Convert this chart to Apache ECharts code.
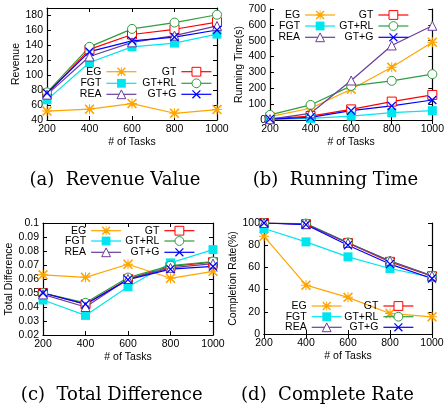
<!DOCTYPE html>
<html>
<head>
<meta charset="utf-8">
<script src="https://cdn.jsdelivr.net/npm/echarts@6/dist/echarts.min.js"></script>
<style>
html,body{margin:0;padding:0;background:#fff;}
#c{width:447px;height:410px;}
</style>
</head>
<body>
<div id="c"></div>
<script>
// ---------- data ----------
const tasks = [200, 400, 600, 800, 1000];
const seriesNames = ['EG', 'GT', 'FGT', 'GT+RL', 'REA', 'GT+G'];

const revEG   = [52, 54.5, 62, 49, 54];
const revGT   = [75, 134.5, 154.5, 161.5, 171];
const revFGT  = [67, 117, 138, 143, 155];
const revGTRL = [77, 138, 162, 170.5, 181];
const revREA  = [74, 125, 144, 153, 166];
const revGTG  = [76, 131.5, 146, 151, 160.5];

const timeEG   = [21, 74, 194, 333, 491];
const timeGT   = [8, 25, 67, 116, 158];
const timeFGT  = [3, 10, 25, 46, 59];
const timeGTRL = [32, 95, 215, 247, 289];
const timeREA  = [5, 42, 249, 470, 594];
const timeGTG  = [6, 17, 59, 89, 126];

const diffEG   = [0.063, 0.0612, 0.0705, 0.0605, 0.0655];
const diffGT   = [0.050, 0.042, 0.060, 0.069, 0.072];
const diffFGT  = [0.045, 0.034, 0.0545, 0.0715, 0.081];
const diffGTRL = [0.050, 0.043, 0.061, 0.0695, 0.0725];
const diffREA  = [0.049, 0.040, 0.060, 0.068, 0.071];
const diffGTG  = [0.050, 0.042, 0.0595, 0.067, 0.069];

const rateEG   = [88, 44, 33, 18.5, 15.5];
const rateGT   = [100, 99, 82, 65, 52];
const rateFGT  = [95, 83, 69.5, 59, 51];
const rateGTRL = [100, 99.5, 82.5, 65.5, 52.5];
const rateREA  = [100, 99, 82, 66, 52.5];
const rateGTG  = [100, 98.5, 80, 63, 50];

const yTitles = ['Revenue', 'Running Time(s)', 'Total Difference', 'Completion Rate(%)'];
const xTitle = '# of Tasks';
const captions = ['(a)  Revenue Value', '(b)  Running Time', '(c)  Total Difference', '(d)  Complete Rate'];

// ---------- styles ----------
const SANS = 'Liberation Sans, Arial, sans-serif';
const crossPath = 'path://M2,0L10,8L18,0L20,2L12,10L20,18L18,20L10,12L2,20L0,18L8,10L0,2Z';
const starPath = 'path://M2.3,0L10,7.7L17.7,0L20,2.3L12.3,10L20,17.7L17.7,20L10,12.3L2.3,20L0,17.7L7.7,10L0,2.3Z M9,0L11,0L11,9L20,9L20,11L11,11L11,20L9,20L9,11L0,11L0,9L9,9Z';
const style = {
  'EG':    {color: '#FFA500', symbol: starPath, size: 10, hollow: false},
  'GT':    {color: '#FF0000', symbol: 'rect', size: 9, hollow: true},
  'FGT':   {color: '#00E5EE', symbol: 'rect', size: 9, hollow: false},
  'GT+RL': {color: '#2E9E3E', symbol: 'circle', size: 9, hollow: true},
  'REA':   {color: '#6A3D9A', symbol: 'triangle', size: 9, hollow: true},
  'GT+G':  {color: '#0000FF', symbol: crossPath, size: 9, hollow: false}
};

const panels = [
  {grid: {left: 47, top: 8, width: 170, height: 112}, min: 40, max: 190, interval: 20,
   data: {'EG': revEG, 'GT': revGT, 'FGT': revFGT, 'GT+RL': revGTRL, 'REA': revREA, 'GT+G': revGTG},
   nameGap: 24,
   legend: {lx: 137, rx: 212, rows: [71.7, 83.3, 94.3]}},
  {grid: {left: 270, top: 9, width: 167, height: 111}, min: 0, max: 700, interval: 100,
   data: {'EG': timeEG, 'GT': timeGT, 'FGT': timeFGT, 'GT+RL': timeGTRL, 'REA': timeREA, 'GT+G': timeGTG},
   nameGap: 24,
   legend: {lx: 335.7, rx: 409, rows: [15, 26, 37.3]}},
  {grid: {left: 43, top: 223, width: 170, height: 112}, min: 0.02, max: 0.1, interval: 0.01,
   data: {'EG': diffEG, 'GT': diffGT, 'FGT': diffFGT, 'GT+RL': diffGTRL, 'REA': diffREA, 'GT+G': diffGTG},
   nameGap: 24,
   legend: {lx: 121.7, rx: 195, rows: [230.7, 241, 252.3]}},
  {grid: {left: 264, top: 223, width: 168, height: 111}, min: 0, max: 100, interval: 20,
   data: {'EG': rateEG, 'GT': rateGT, 'FGT': rateFGT, 'GT+RL': rateGTRL, 'REA': rateREA, 'GT+G': rateGTG},
   nameGap: 21,
   legend: {lx: 342.3, rx: 414, rows: [306, 316.7, 327.3]}}
];

const grids = [], xAxes = [], yAxes = [], series = [], legends = [], graphics = [];
const tickStyle = {show: true, inside: true, length: 4, lineStyle: {color: '#000', width: 1}};
const lineStyleAx = {show: true, lineStyle: {color: '#000', width: 1.2}};

panels.forEach((p, i) => {
  grids.push(Object.assign({containLabel: false, show: false}, p.grid));
  const xi = xAxes.length;
  xAxes.push({
    type: 'value', gridIndex: i, min: 200, max: 1000, interval: 200,
    position: 'bottom',
    axisLine: lineStyleAx, axisTick: tickStyle, splitLine: {show: false},
    axisLabel: {color: '#000', fontFamily: SANS, fontSize: 10.5, margin: 4, formatter: v => String(v)},
    name: xTitle, nameLocation: 'middle', nameGap: 17,
    nameTextStyle: {color: '#000', fontFamily: SANS, fontSize: 10.5}
  });
  xAxes.push({
    type: 'value', gridIndex: i, min: 200, max: 1000, interval: 200,
    position: 'top',
    axisLine: lineStyleAx, axisTick: tickStyle, axisLabel: {show: false}, splitLine: {show: false}
  });
  const yi = yAxes.length;
  const iv = p.interval;
  yAxes.push({
    type: 'value', gridIndex: i, min: p.min, max: p.max, interval: iv,
    position: 'left',
    axisLine: lineStyleAx, axisTick: tickStyle, splitLine: {show: false},
    axisLabel: {
      color: '#000', fontFamily: SANS, fontSize: 10.5, margin: 4, showMaxLabel: true,
      formatter: v => {
        const k = (v - p.min) / iv;
        if (Math.abs(k - Math.round(k)) > 1e-6) return '';
        return String(+v.toFixed(4));
      }
    },
    name: yTitles[i], nameLocation: 'middle', nameGap: p.nameGap,
    nameTextStyle: {color: '#000', fontFamily: SANS, fontSize: 10.5}
  });
  yAxes.push({
    type: 'value', gridIndex: i, min: p.min, max: p.max, interval: iv,
    position: 'right',
    axisLine: lineStyleAx, axisTick: tickStyle, axisLabel: {show: false}, splitLine: {show: false}
  });
  seriesNames.forEach(n => {
    const st = style[n];
    series.push({
      type: 'line', name: n, xAxisIndex: xi, yAxisIndex: yi,
      data: tasks.map((t, k) => [t, p.data[n][k]]),
      symbol: st.symbol, symbolSize: st.size,
      lineStyle: {color: st.color, width: 1.2},
      itemStyle: st.hollow
        ? {color: '#fff', borderColor: st.color, borderWidth: 1}
        : {color: st.color, borderColor: st.color, borderWidth: 0},
      animation: false
    });
  });
  const left = ['EG', 'FGT', 'REA'], right = ['GT', 'GT+RL', 'GT+G'];
  [[left, p.legend.lx], [right, p.legend.rx]].forEach(([names, x]) => {
    names.forEach((n, r) => {
      const st = style[n];
      legends.push({
        data: [{name: n, itemStyle: st.hollow
          ? {color: '#fff', borderColor: st.color, borderWidth: 1}
          : {color: st.color, borderWidth: 0}}],
        align: 'right', orient: 'horizontal',
        right: 447 - x, top: p.legend.rows[r] - 6,
        padding: 0, itemWidth: 30, itemHeight: 11, selectedMode: false,
        lineStyle: {width: 1.2},
        textStyle: {color: '#000', fontFamily: SANS, fontSize: 10.5, lineHeight: 12}
      });
    });
  });
});

const capPos = [[115, 180], [335.5, 180], [111.7, 395], [327.5, 395]];
captions.forEach((c, i) => {
  graphics.push({
    type: 'text', x: capPos[i][0], y: capPos[i][1],
    style: {text: c, fill: '#000', font: '18px "DejaVu Serif", serif', textAlign: 'center', textVerticalAlign: 'middle'}
  });
});

const chart = echarts.init(document.getElementById('c'), null, {renderer: 'canvas'});
chart.setOption({
  animation: false,
  backgroundColor: '#fff',
  grid: grids, xAxis: xAxes, yAxis: yAxes, series: series, legend: legends, graphic: graphics
});
</script>
</body>
</html>
